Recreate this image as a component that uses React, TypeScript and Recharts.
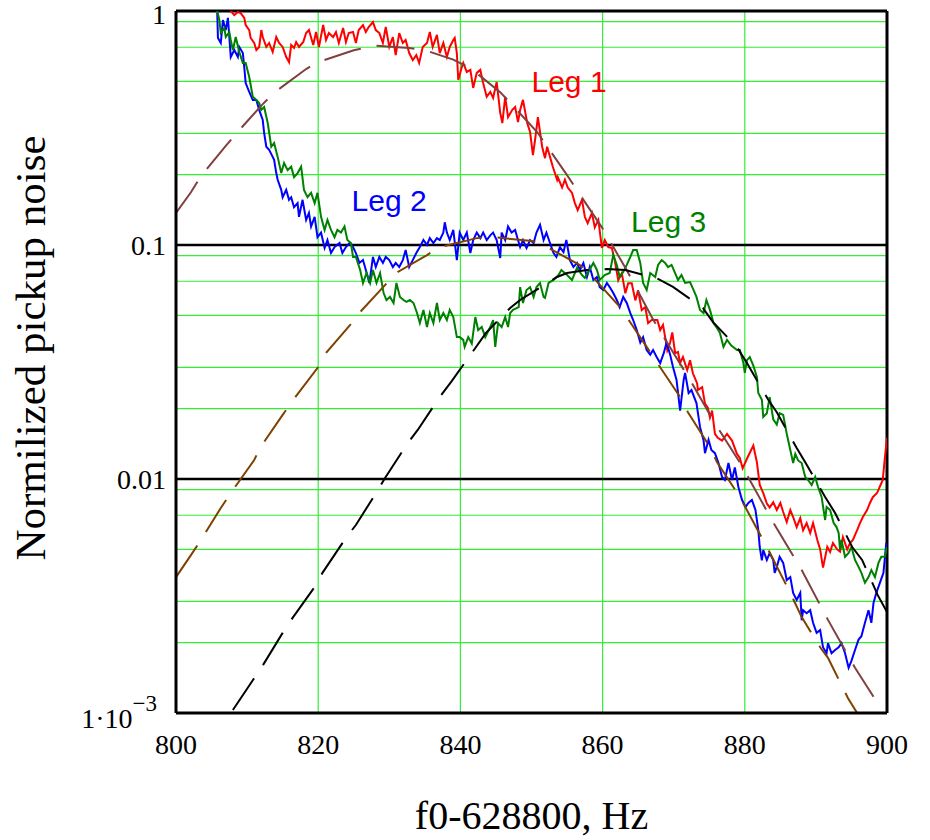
import { LineChart, Line, XAxis, YAxis, CartesianGrid, ReferenceLine, ReferenceDot } from 'recharts';

// [frequency offset (Hz), normalized noise]
const leg1Noise: [number, number][] = [
  [807.7, 1.0], [808.2, 0.961], [808.7, 0.99], [809.1, 0.98], [809.6, 0.934], [809.8, 0.871], [810.3, 0.829], [810.5, 0.767],
  [811.0, 0.73], [811.3, 0.681], [811.7, 0.702], [812.0, 0.829], [812.2, 0.774], [812.7, 0.702], [813.1, 0.73], [813.6, 0.668],
  [814.1, 0.774], [814.5, 0.73], [815.0, 0.702], [815.5, 0.636], [815.9, 0.605], [816.2, 0.716], [816.6, 0.695], [816.9, 0.737],
  [817.3, 0.702], [817.9, 0.737], [818.3, 0.805], [818.7, 0.829], [819.3, 0.716], [819.7, 0.813], [820.1, 0.702], [820.7, 0.871],
  [821.1, 0.752], [821.5, 0.805], [822.1, 0.774], [822.5, 0.813], [822.9, 0.73], [823.5, 0.846], [823.9, 0.737], [824.3, 0.805],
  [824.9, 0.813], [825.3, 0.73], [825.7, 0.829], [826.3, 0.871], [826.7, 0.813], [827.1, 0.854], [827.7, 0.897], [828.1, 0.829],
  [828.6, 0.805], [829.1, 0.73], [829.5, 0.854], [830.0, 0.702], [830.5, 0.774], [830.9, 0.648], [831.4, 0.805], [831.9, 0.73],
  [832.3, 0.752], [832.8, 0.661], [833.3, 0.617], [833.8, 0.648], [834.2, 0.6], [834.7, 0.702], [835.3, 0.73], [835.7, 0.813],
  [836.1, 0.702], [836.7, 0.79], [837.1, 0.661], [837.6, 0.73], [838.1, 0.636], [838.5, 0.702], [839.0, 0.752], [839.2, 0.767],
  [839.5, 0.661], [839.7, 0.507], [840.2, 0.576], [840.4, 0.6], [840.9, 0.549], [841.4, 0.56], [841.8, 0.469], [842.3, 0.544],
  [842.8, 0.56], [843.2, 0.492], [843.7, 0.43], [844.2, 0.451], [844.6, 0.425], [845.1, 0.497], [845.6, 0.367], [845.9, 0.332],
  [846.3, 0.43], [846.7, 0.352], [847.3, 0.378], [847.7, 0.389], [848.1, 0.335], [848.4, 0.378], [848.8, 0.417], [849.4, 0.332],
  [849.8, 0.304], [850.2, 0.242], [850.5, 0.281], [850.9, 0.352], [851.5, 0.263], [851.9, 0.235], [852.2, 0.263], [852.6, 0.238],
  [853.0, 0.216], [853.6, 0.19], [853.7, 0.195], [854.3, 0.176], [854.7, 0.19], [855.1, 0.176], [855.7, 0.167], [856.1, 0.151],
  [856.5, 0.141], [857.1, 0.156], [857.5, 0.132], [857.9, 0.124], [858.5, 0.137], [858.9, 0.119], [859.4, 0.128], [859.9, 0.0971],
  [860.3, 0.105], [860.8, 0.098], [861.3, 0.0971], [861.7, 0.0862], [862.2, 0.0707], [862.7, 0.0758], [863.2, 0.0622], [863.6, 0.0686],
  [864.1, 0.0686], [864.6, 0.058], [865.0, 0.064], [865.5, 0.0527], [866.0, 0.0543], [866.4, 0.0464], [866.9, 0.0478], [867.7, 0.0478],
  [868.1, 0.0433], [868.5, 0.0455], [868.8, 0.0404], [869.1, 0.0355], [869.5, 0.0383], [869.8, 0.0423], [870.2, 0.0345], [870.6, 0.0349],
  [870.9, 0.0313], [871.3, 0.0332], [871.9, 0.0292], [872.3, 0.0322], [872.7, 0.0283], [873.3, 0.0256], [873.4, 0.024], [874.0, 0.0247],
  [874.4, 0.021], [874.8, 0.0202], [875.1, 0.0183], [875.4, 0.0196], [875.8, 0.0156], [876.2, 0.015], [876.8, 0.0146], [877.5, 0.0156],
  [878.2, 0.0146], [878.9, 0.0128], [879.3, 0.0123], [879.7, 0.0111], [880.3, 0.0122], [881.2, 0.0139], [881.7, 0.0118], [882.1, 0.00943],
  [882.6, 0.0087], [883.1, 0.00786], [883.5, 0.00756], [884.0, 0.00795], [884.5, 0.00737], [885.0, 0.0079], [885.4, 0.00723], [885.9, 0.00655],
  [886.4, 0.00737], [886.8, 0.00688], [887.3, 0.00623], [887.8, 0.00681], [888.2, 0.00604], [888.7, 0.00648], [889.2, 0.00588], [889.6, 0.00648],
  [890.2, 0.00549], [890.6, 0.005], [891.0, 0.00418], [891.6, 0.00513], [892.0, 0.00488], [892.4, 0.00533], [893.0, 0.005], [893.4, 0.00489],
  [893.8, 0.00565], [894.4, 0.005], [894.8, 0.00533], [895.2, 0.00549], [895.8, 0.00604], [896.2, 0.00648], [896.6, 0.00688], [897.2, 0.00737],
  [897.6, 0.0079], [898.0, 0.00836], [898.6, 0.00871], [899.0, 0.00929], [899.4, 0.0099], [899.7, 0.0123], [900.0, 0.015],
];

const leg2Noise: [number, number][] = [
  [805.8, 0.98], [805.9, 0.767], [806.3, 0.73], [806.6, 0.915], [807.0, 0.829], [807.3, 0.934], [807.5, 0.774], [807.7, 0.636],
  [808.2, 0.681], [808.7, 0.636], [808.9, 0.702], [809.4, 0.661], [809.6, 0.576], [809.8, 0.492], [810.3, 0.451], [810.8, 0.417],
  [811.3, 0.417], [811.7, 0.378], [812.2, 0.342], [812.4, 0.301], [812.7, 0.263], [813.1, 0.255], [813.6, 0.238], [813.8, 0.231],
  [814.1, 0.203], [814.3, 0.19], [814.8, 0.172], [815.0, 0.16], [815.5, 0.172], [815.9, 0.156], [816.2, 0.16], [816.6, 0.145],
  [817.1, 0.151], [817.3, 0.132], [817.8, 0.156], [818.3, 0.128], [818.7, 0.137], [819.0, 0.12], [819.5, 0.132], [819.9, 0.108],
  [820.4, 0.113], [820.9, 0.0971], [821.3, 0.105], [821.8, 0.0924], [822.3, 0.098], [823.0, 0.102], [823.4, 0.0924], [823.9, 0.098],
  [824.4, 0.102], [824.9, 0.098], [825.3, 0.0924], [825.8, 0.0838], [826.3, 0.0862], [826.7, 0.0782], [827.2, 0.0688], [827.7, 0.0889],
  [828.1, 0.0805], [828.6, 0.0889], [829.1, 0.0838], [829.5, 0.0889], [830.0, 0.0862], [830.5, 0.0805], [830.9, 0.0838], [831.4, 0.0805],
  [831.9, 0.0862], [832.3, 0.0952], [832.8, 0.0805], [833.3, 0.0862], [833.8, 0.0924], [834.3, 0.098], [834.8, 0.105], [835.3, 0.1],
  [835.7, 0.107], [836.2, 0.102], [836.7, 0.107], [837.1, 0.105], [837.6, 0.113], [837.8, 0.125], [838.1, 0.113], [838.5, 0.105],
  [839.0, 0.116], [839.5, 0.0862], [839.9, 0.113], [840.4, 0.105], [840.9, 0.113], [841.4, 0.0924], [841.8, 0.105], [842.3, 0.113],
  [842.8, 0.107], [843.2, 0.113], [843.7, 0.105], [844.2, 0.11], [844.6, 0.113], [845.1, 0.105], [845.6, 0.088], [845.8, 0.113],
  [846.3, 0.105], [846.7, 0.12], [847.2, 0.113], [847.7, 0.116], [848.1, 0.105], [848.4, 0.098], [848.8, 0.105], [849.3, 0.0971],
  [849.8, 0.105], [850.3, 0.102], [850.7, 0.113], [851.2, 0.122], [851.7, 0.105], [852.1, 0.113], [852.6, 0.102], [853.1, 0.0924],
  [853.5, 0.0889], [854.0, 0.098], [854.5, 0.0933], [854.9, 0.105], [855.4, 0.0862], [855.9, 0.0805], [856.4, 0.0838], [856.8, 0.0782],
  [857.3, 0.0838], [857.8, 0.073], [858.2, 0.0805], [858.7, 0.0709], [859.2, 0.073], [859.6, 0.0661], [860.1, 0.0642], [860.6, 0.0688],
  [861.0, 0.0661], [861.5, 0.0623], [862.0, 0.0582], [862.4, 0.0543], [862.9, 0.06], [863.4, 0.0565], [863.9, 0.0512], [864.3, 0.0478],
  [864.8, 0.0433], [865.3, 0.0383], [865.7, 0.0404], [866.2, 0.0356], [866.7, 0.034], [867.1, 0.0356], [867.6, 0.0332], [868.1, 0.0313],
  [868.6, 0.0345], [869.0, 0.0383], [869.5, 0.034], [869.9, 0.0301], [870.4, 0.0265], [870.9, 0.0196], [871.4, 0.0265], [871.6, 0.0284],
  [872.1, 0.0233], [872.5, 0.024], [873.2, 0.0211], [873.7, 0.0167], [874.2, 0.0146], [874.4, 0.0129], [874.9, 0.0147], [875.3, 0.0133],
  [875.8, 0.0129], [876.3, 0.0117], [876.8, 0.0102], [877.2, 0.0099], [877.7, 0.0117], [878.2, 0.0099], [878.6, 0.0112], [879.1, 0.00924],
  [879.6, 0.00815], [880.1, 0.00759], [880.5, 0.0079], [881.0, 0.00813], [881.5, 0.00737], [881.9, 0.00605], [882.1, 0.00512], [882.4, 0.00449],
  [882.6, 0.00497], [883.1, 0.00451], [883.5, 0.00483], [884.0, 0.00451], [884.2, 0.00397], [884.5, 0.00421], [884.9, 0.00465], [885.4, 0.00438],
  [885.9, 0.0037], [886.4, 0.00381], [886.8, 0.00326], [887.3, 0.00304], [887.8, 0.00326], [888.0, 0.00249], [888.2, 0.00275], [888.7, 0.00267],
  [889.2, 0.00275], [889.6, 0.00243], [890.1, 0.0022], [890.6, 0.00226], [891.0, 0.00191], [891.5, 0.0018], [891.7, 0.00199], [892.2, 0.0018],
  [892.7, 0.00186], [893.2, 0.00191], [893.6, 0.00199], [894.1, 0.0018], [894.6, 0.00156], [895.0, 0.00167], [895.5, 0.00186], [896.0, 0.00206],
  [896.4, 0.00213], [896.9, 0.00243], [897.4, 0.00275], [897.8, 0.00243], [898.1, 0.00295], [898.5, 0.00326], [899.0, 0.0036], [899.5, 0.00397],
  [899.9, 0.00533],
];

const leg3Noise: [number, number][] = [
  [805.8, 1.0], [806.1, 0.915], [806.3, 0.805], [806.8, 0.846], [807.0, 0.774], [807.5, 0.813], [807.7, 0.752], [808.0, 0.681],
  [808.4, 0.774], [808.9, 0.668], [809.4, 0.6], [809.8, 0.6], [810.3, 0.522], [810.8, 0.43], [811.3, 0.417], [811.7, 0.404],
  [812.0, 0.378], [812.4, 0.389], [812.9, 0.332], [813.4, 0.263], [813.8, 0.273], [814.3, 0.238], [814.8, 0.203], [815.2, 0.224],
  [815.7, 0.209], [816.2, 0.216], [816.6, 0.195], [817.1, 0.203], [817.6, 0.216], [818.0, 0.172], [818.5, 0.16], [819.0, 0.167],
  [819.5, 0.151], [819.9, 0.167], [820.4, 0.132], [820.9, 0.116], [821.3, 0.128], [821.8, 0.116], [822.3, 0.108], [822.7, 0.116],
  [823.2, 0.113], [823.7, 0.12], [824.1, 0.105], [824.6, 0.102], [824.9, 0.0889], [825.3, 0.0889], [825.9, 0.0782], [826.3, 0.0688],
  [826.8, 0.0759], [827.3, 0.0688], [827.7, 0.0782], [828.2, 0.0688], [828.7, 0.0759], [829.2, 0.0623], [829.6, 0.0582], [830.1, 0.06],
  [830.6, 0.0565], [831.0, 0.0688], [831.5, 0.06], [832.0, 0.0582], [832.4, 0.0571], [832.9, 0.0582], [833.4, 0.0565], [833.9, 0.0512],
  [834.3, 0.0464], [834.8, 0.0528], [835.3, 0.0446], [835.7, 0.0512], [836.2, 0.0464], [836.7, 0.0565], [837.1, 0.0478], [837.6, 0.0512],
  [838.1, 0.0478], [838.5, 0.0528], [839.0, 0.0492], [839.5, 0.0404], [839.9, 0.0404], [840.4, 0.0393], [840.6, 0.0367], [841.1, 0.0404],
  [841.6, 0.0379], [842.1, 0.0492], [842.5, 0.0433], [843.0, 0.0446], [843.5, 0.0404], [844.2, 0.0446], [844.6, 0.0478], [844.9, 0.0367],
  [845.3, 0.0464], [845.8, 0.0446], [846.3, 0.0492], [846.7, 0.0446], [847.0, 0.0512], [847.4, 0.0528], [848.2, 0.0543], [848.4, 0.0661],
  [848.8, 0.0565], [849.3, 0.0642], [849.8, 0.0661], [850.3, 0.06], [850.7, 0.0661], [851.2, 0.0688], [851.7, 0.06], [851.9, 0.0594],
  [852.4, 0.0688], [853.1, 0.0709], [853.8, 0.0744], [854.2, 0.0782], [855.0, 0.0744], [855.7, 0.0709], [856.4, 0.0799], [857.1, 0.0744],
  [857.5, 0.0723], [858.0, 0.0767], [858.7, 0.0838], [859.2, 0.0782], [859.6, 0.0709], [860.3, 0.0744], [861.0, 0.0759], [861.5, 0.0907],
  [862.0, 0.0822], [862.4, 0.073], [862.9, 0.0767], [863.4, 0.0822], [863.9, 0.0889], [864.3, 0.0952], [864.8, 0.0952], [865.3, 0.0838],
  [865.7, 0.0688], [866.2, 0.0642], [866.7, 0.0759], [867.4, 0.073], [867.8, 0.0822], [868.3, 0.0862], [868.8, 0.0838], [869.2, 0.0805],
  [869.7, 0.0822], [870.2, 0.0759], [870.6, 0.0709], [871.1, 0.0744], [871.6, 0.0688], [872.3, 0.0694], [872.8, 0.0642], [873.2, 0.06],
  [873.7, 0.0528], [874.2, 0.0512], [874.6, 0.0582], [875.1, 0.0528], [875.6, 0.0464], [876.0, 0.0446], [876.5, 0.0421], [877.0, 0.0367],
  [877.5, 0.0393], [878.1, 0.0372], [878.9, 0.0356], [879.3, 0.0356], [879.8, 0.0313], [880.0, 0.0284], [880.3, 0.0322], [880.7, 0.0332],
  [881.2, 0.0305], [881.7, 0.0273], [881.9, 0.0233], [882.4, 0.0218], [882.6, 0.0184], [883.1, 0.0191], [883.5, 0.0224], [884.0, 0.018],
  [884.5, 0.0171], [884.9, 0.0191], [885.4, 0.0188], [885.9, 0.0156], [886.4, 0.0133], [886.8, 0.0117], [887.1, 0.0128], [887.5, 0.012],
  [888.0, 0.0117], [888.5, 0.0102], [888.9, 0.0099], [889.4, 0.00943], [889.9, 0.0102], [890.3, 0.00924], [890.8, 0.00838], [891.3, 0.00668],
  [891.5, 0.00759], [892.0, 0.00737], [892.5, 0.00648], [892.9, 0.00623], [893.2, 0.00588], [893.4, 0.00497], [893.6, 0.00549], [894.1, 0.00465],
  [894.6, 0.00483], [895.0, 0.00512], [895.5, 0.00451], [896.0, 0.00421], [896.4, 0.00397], [896.9, 0.0036], [897.4, 0.00381], [897.8, 0.00408],
  [898.3, 0.00381], [898.8, 0.00438], [899.2, 0.00465], [899.7, 0.00465], [900.0, 0.00512],
];

// fitted curves (dashed)
const leg1Fit: [number, number][] = [
  [800, 0.137], [802.1, 0.168], [803.5, 0.197], [807.0, 0.265], [808.4, 0.298], [812.2, 0.4], [813.9, 0.45], [818.3, 0.565],
  [820.0, 0.605], [825.0, 0.68], [828.1, 0.71], [832.8, 0.695], [835.0, 0.68], [839.0, 0.62], [841.4, 0.57], [845.6, 0.45],
  [850.8, 0.304], [855.0, 0.199], [857.8, 0.148], [859.9, 0.119], [863.4, 0.078], [867.1, 0.048], [872.3, 0.0265], [875.5, 0.0179],
  [879.7, 0.01125], [883.8, 0.00668], [888.0, 0.00408], [891.7, 0.0025], [895.5, 0.00156], [899.3, 0.00103],
];

const leg2Fit: [number, number][] = [
  [800, 0.00381], [802.1, 0.00473], [803.5, 0.00548], [806.3, 0.00752], [807.7, 0.00871], [811.0, 0.01205], [811.8, 0.01356], [815.0, 0.0188],
  [816.5, 0.0218], [820.0, 0.0301], [821.2, 0.0349], [824.6, 0.0459], [825.9, 0.0517], [829.8, 0.0695], [831.2, 0.0767], [835.3, 0.0906],
  [837.1, 0.098], [842.3, 0.107], [844.6, 0.108], [850.1, 0.104], [852.2, 0.098], [856.8, 0.082], [858.6, 0.073], [862.2, 0.0554],
  [863.4, 0.0492], [867.7, 0.0313], [870.9, 0.0224], [872.0, 0.0193], [875.1, 0.0137], [876.1, 0.0118], [879.3, 0.00838], [883.1, 0.00512],
  [886.4, 0.00326], [888.0, 0.00257], [890.6, 0.00191], [891.7, 0.00172], [894.5, 0.00116], [895.8, 0.001],
];

const leg3Fit: [number, number][] = [
  [808.0, 0.00103], [810.8, 0.00138], [812.0, 0.00156], [815.0, 0.0022], [816.4, 0.00255], [819.7, 0.00352], [820.6, 0.00397], [823.9, 0.0056],
  [825.3, 0.00636], [828.4, 0.00897], [829.4, 0.0101], [832.6, 0.01425], [834.0, 0.0162], [837.0, 0.0222], [838.7, 0.026], [841.7, 0.0349],
  [843.6, 0.0421], [847.0, 0.0538], [848.4, 0.0582], [853.6, 0.073], [855.0, 0.0759], [857.8, 0.0782], [860.6, 0.0789], [863.2, 0.0782],
  [867.8, 0.0716], [869.9, 0.0662], [874.1, 0.0538], [875.5, 0.0469], [878.9, 0.0366], [880.3, 0.0313], [883.3, 0.0218], [884.5, 0.0193],
  [887.3, 0.01356], [888.5, 0.0118], [891.3, 0.00838], [892.7, 0.00716], [895.1, 0.00512], [896.5, 0.00451], [898.7, 0.00319], [900.0, 0.0027],
];

const xTicks = [800, 820, 840, 860, 880, 900];
const yTicks = [0.001, 0.01, 0.1, 1];
const gridX = [820, 840, 860, 880];
const minorY = [
  0.002, 0.003, 0.004, 0.005, 0.006, 0.007, 0.008, 0.009,
  0.02, 0.03, 0.04, 0.05, 0.06, 0.07, 0.08, 0.09,
  0.2, 0.3, 0.4, 0.5, 0.6, 0.7, 0.8, 0.9,
];
const blackY = [0.01, 0.1];

// label anchors (left end / baseline of each text)
const legLabels: { f: number; v: number; text: string; color: string }[] = [
  { f: 850.0, v: 0.451, text: 'Leg 1', color: '#ff0000' },
  { f: 824.7, v: 0.14, text: 'Leg 2', color: '#0000ff' },
  { f: 864.0, v: 0.1137, text: 'Leg 3', color: '#008000' },
];

const toPoints = (pairs: [number, number][]) => pairs.map(([f, v]) => ({ f, v }));

const SERIF = '"Liberation Serif", "Times New Roman", serif';
const SANS = '"Liberation Sans", Arial, sans-serif';

function XTick(props: any) {
  const { x, y, payload } = props;
  return (
    <text x={x} y={y + 33} textAnchor="middle" fontFamily={SERIF} fontSize={28} fill="#000">
      {payload.value}
    </text>
  );
}

function YTick(props: any) {
  const { x, y, payload } = props;
  const v = payload.value;
  if (v === 0.001) {
    return (
      <text x={x - 11} y={y + 15} textAnchor="end" fontFamily={SERIF} fontSize={28} fill="#000">
        1·10
        <tspan dy={-17} fontSize={23}>−3</tspan>
      </text>
    );
  }
  return (
    <text x={x - 2} y={y + (v === 1 ? 13 : 10)} textAnchor="end" fontFamily={SERIF} fontSize={28} fill="#000">
      {String(v)}
    </text>
  );
}

export default function App() {
  const noise = [
    { name: 'leg1', data: toPoints(leg1Noise), color: '#ff0000' },
    { name: 'leg2', data: toPoints(leg2Noise), color: '#0000ff' },
    { name: 'leg3', data: toPoints(leg3Noise), color: '#008000' },
  ];
  const fits = [
    { name: 'fit1', data: toPoints(leg1Fit), color: '#804040' },
    { name: 'fit2', data: toPoints(leg2Fit), color: '#804000' },
    { name: 'fit3', data: toPoints(leg3Fit), color: '#000000' },
  ];

  return (
    <div style={{ position: 'absolute', left: 0, top: 0, width: 930, height: 840, background: '#fff' }}>
      <LineChart width={930} height={840} margin={{ top: 11, right: 43, left: 0, bottom: 0 }}>
        <CartesianGrid
          horizontalValues={minorY}
          verticalValues={gridX}
          stroke="#33ee33"
          strokeWidth={1.2}
        />
        <XAxis
          type="number"
          dataKey="f"
          domain={[800, 900]}
          ticks={xTicks}
          allowDataOverflow
          height={127}
          tickLine={false}
          axisLine={{ stroke: '#000', strokeWidth: 3 }}
          tick={<XTick />}
          label={{
            content: (p: any) => {
              const vb = p.viewBox;
              return (
                <text x={vb.x + vb.width / 2} y={vb.y + 116} textAnchor="middle" fontFamily={SERIF} fontSize={40} fill="#000">
                  f0-628800, Hz
                </text>
              );
            },
          }}
        />
        <YAxis
          scale="log"
          domain={[0.001, 1]}
          ticks={yTicks}
          allowDataOverflow
          width={176}
          tickLine={false}
          axisLine={{ stroke: '#000', strokeWidth: 3 }}
          tick={<YTick />}
          label={{
            content: (p: any) => {
              const vb = p.viewBox;
              const cx = vb.x + 30;
              const cy = vb.y + vb.height / 2 - 14;
              return (
                <text
                  x={cx}
                  y={cy}
                  transform={`rotate(-90, ${cx}, ${cy})`}
                  textAnchor="middle"
                  dominantBaseline="central"
                  fontFamily={SERIF}
                  fontSize={43}
                  fill="#000"
                >
                  Normilized pickup noise
                </text>
              );
            },
          }}
        />
        {blackY.map((v) => (
          <ReferenceLine key={`b${v}`} y={v} stroke="#000" strokeWidth={2.5} />
        ))}
        <ReferenceLine y={1} stroke="#000" strokeWidth={3} />
        <ReferenceLine x={900} stroke="#000" strokeWidth={3} />
        {noise.map((s) => (
          <Line
            key={s.name}
            data={s.data}
            dataKey="v"
            type="linear"
            stroke={s.color}
            strokeWidth={2}
            dot={false}
            activeDot={false}
            isAnimationActive={false}
          />
        ))}
        {fits.map((s) => (
          <Line
            key={s.name}
            data={s.data}
            dataKey="v"
            type="linear"
            stroke={s.color}
            strokeWidth={2}
            strokeDasharray="38 16"
            dot={false}
            activeDot={false}
            isAnimationActive={false}
          />
        ))}
        {legLabels.map((l) => (
          <ReferenceDot
            key={l.text}
            x={l.f}
            y={l.v}
            r={0}
            isFront
            shape={(p: any) => (
              <text x={p.cx} y={p.cy} fontFamily={SANS} fontSize={30} fill={l.color}>
                {l.text}
              </text>
            )}
          />
        ))}
      </LineChart>
    </div>
  );
}
